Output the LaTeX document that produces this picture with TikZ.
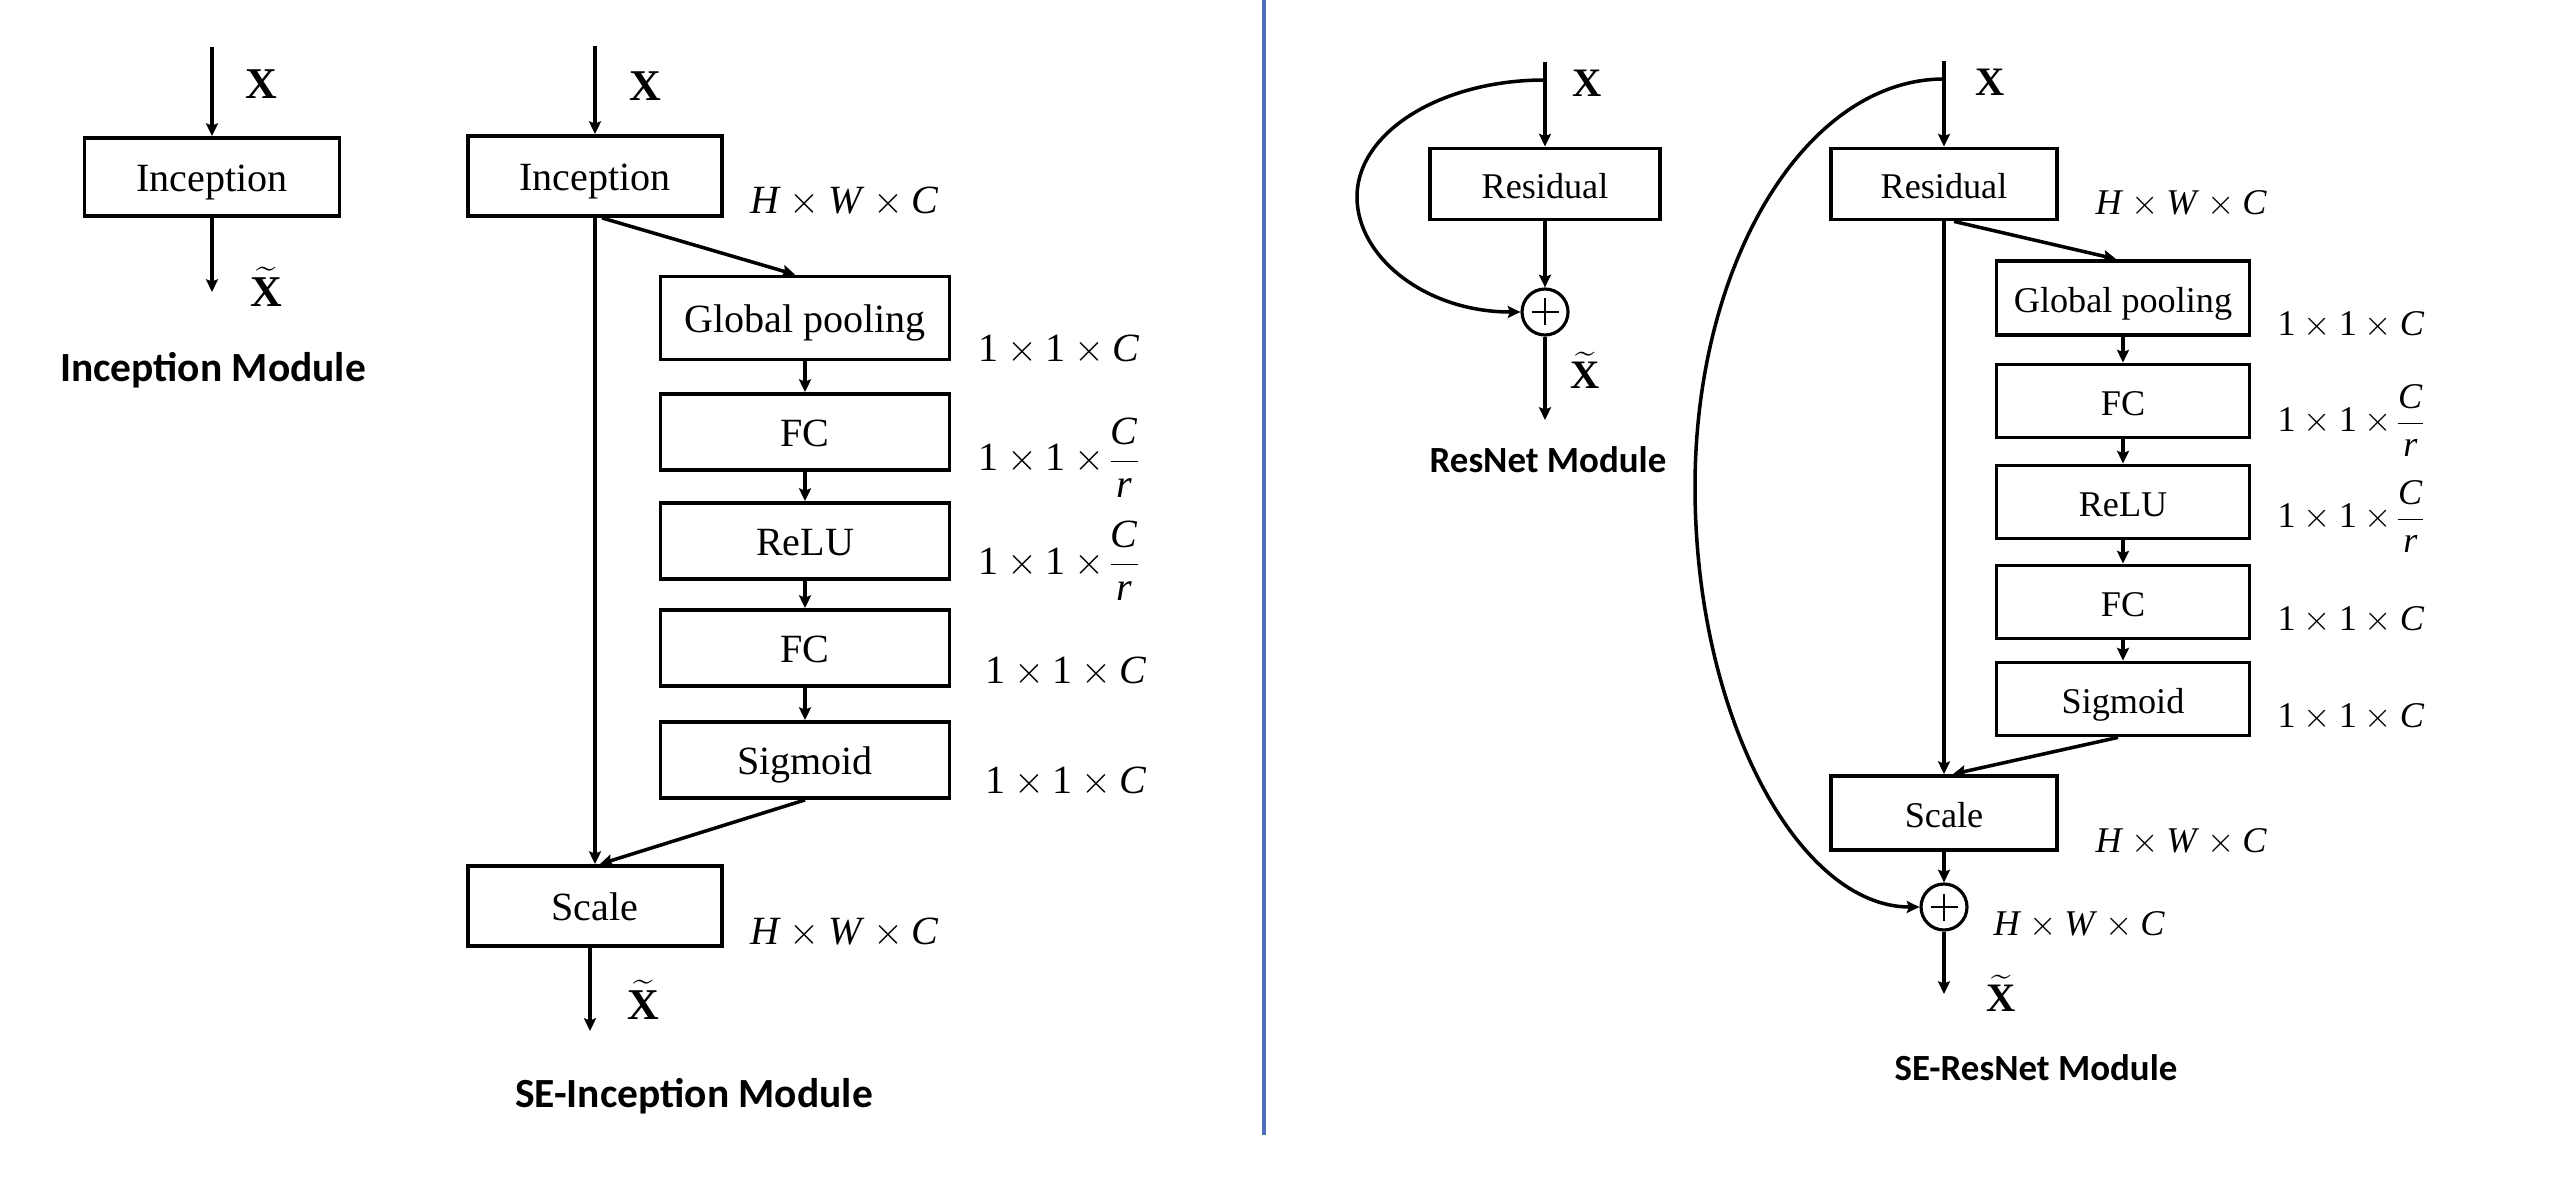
\documentclass[tikz,border=0pt]{standalone}
\usepackage{fontspec}
\setmainfont{Liberation Serif}
\newfontfamily\titlefont{Carlito}
\usetikzlibrary{arrows.meta}
\definecolor{sepblue}{RGB}{78,110,186}
\newcommand\mi[1]{\mbox{\textit{#1}}}
\newcommand\mn[1]{\mbox{#1}}
\newcommand\bigfs{\fontsize{11.4pt}{13pt}\selectfont}
\newcommand\smallfs{\fontsize{10.3pt}{12pt}\selectfont}
\newcommand\dimHWC{$\mi{H}\times\mi{W}\times\mi{C}$}
\newcommand\dimOOC{$\mn{1}\times\mn{1}\times\mi{C}$}
\newcommand\dimOOCr{$\mn{1}\times\mn{1}\times\!\displaystyle\frac{\mi{C}}{\mi{r}}$}
\newcommand\xin{\textbf{X}}
\newcommand\xout{$\widetilde{\mbox{\textbf{X}}}$}
\tikzset{
  blk/.style={draw, line width=1.1pt, inner sep=0pt, minimum height=7.6mm,
    text height=0.84em, text depth=0pt},
  lblk/.style={blk, font=\bigfs},
  rblk/.style={blk, font=\smallfs, minimum height=7.3mm},
  link/.style={line width=1pt, -{Stealth[length=3.6pt,width=3.4pt,inset=0.6pt]}},
  dimL/.style={anchor=base west, font=\bigfs, inner sep=0pt},
  dimR/.style={anchor=base west, font=\smallfs, inner sep=0pt},
  varL/.style={font=\fontsize{12.5pt}{14pt}\selectfont, inner sep=0pt},
  varR/.style={font=\fontsize{11.5pt}{13pt}\selectfont, inner sep=0pt},
  titleL/.style={font=\titlefont\bfseries\fontsize{11.8pt}{14pt}\selectfont},
  titleR/.style={font=\titlefont\bfseries\fontsize{10.5pt}{13pt}\selectfont},
  addop/.style={circle, draw, line width=0.9pt, minimum size=4.6mm, inner sep=0pt,
    path picture={
      \draw[line width=0.7pt] ([xshift=-1.35mm]path picture bounding box.center) -- ([xshift=1.35mm]path picture bounding box.center);
      \draw[line width=0.7pt] ([yshift=-1.35mm]path picture bounding box.center) -- ([yshift=1.35mm]path picture bounding box.center);
    }},
}
\begin{document}
\begin{tikzpicture}[x=0.1mm, y=-0.1mm]
  \fill[white] (0,0) rectangle (2572,1180);
  \useasboundingbox (0,0) rectangle (2572,1180);

  % ---------------- Inception module ----------------
  \node[lblk, minimum width=25.5mm, minimum height=7.8mm] (inc1) at (212,177) {Inception};
  \coordinate (inc1in) at (212,47);
  \coordinate (inc1out) at (212,292);
  \draw[link] (inc1in) -- (inc1.north);
  \draw[link] (inc1.south) -- (inc1out);
  \node[varL] (x1) at (261,84) {\xin};
  \node[varL] (xt1) at (266,287) {\xout};
  \node[titleL] (t1) at (213,370) {Inception Module};

  % ---------------- SE-Inception module ----------------
  \node[lblk, minimum width=25.4mm, minimum height=8mm] (inc2) at (595,176) {Inception};
  \coordinate (inc2in) at (595,46);
  \draw[link] (inc2in) -- (inc2.north);
  \node[varL] (x2) at (645,86) {\xin};
  \node[dimL] (d2a) at (750,214) {\dimHWC};

  \node[lblk, minimum width=28.9mm, minimum height=8.3mm] (gp1) at (805,318) {Global pooling};
  \node[lblk, minimum width=28.9mm] (fc1) at (805,432) {FC};
  \node[lblk, minimum width=28.9mm] (relu1) at (805,541) {ReLU};
  \node[lblk, minimum width=28.9mm] (fc2) at (805,648) {FC};
  \node[lblk, minimum width=28.9mm] (sig1) at (805,760) {Sigmoid};
  \node[lblk, minimum width=25.4mm, minimum height=8mm] (scale1) at (595,906) {Scale};

  \node[dimL] (d2b) at (978,362) {\dimOOC};
  \node[dimL] (d2c) at (978,471) {\dimOOCr};
  \node[dimL] (d2d) at (978,574) {\dimOOCr};
  \node[dimL] (d2e) at (985,683) {\dimOOC};
  \node[dimL] (d2f) at (985,793) {\dimOOC};
  \node[dimL] (d2g) at (750,944) {\dimHWC};

  \draw[link] (inc2.south) -- (scale1.north);
  \draw[link] ([xshift=0.7mm]inc2.south) -- ([xshift=-1mm]gp1.north);
  \draw[link] (gp1) -- (fc1);
  \draw[link] (fc1) -- (relu1);
  \draw[link] (relu1) -- (fc2);
  \draw[link] (fc2) -- (sig1);
  \draw[link] (sig1.south) -- ([xshift=0.5mm]scale1.north);
  \coordinate (inc2out) at (590,1031);
  \draw[link] ([xshift=-0.5mm]scale1.south) -- (inc2out);
  \node[varL] (xt2) at (643,1000) {\xout};
  \node[titleL] (t2) at (694,1096) {SE-Inception Module};

  % ---------------- separator ----------------
  \coordinate (septop) at (1264,0);
  \coordinate (sepbot) at (1264,1135);
  \draw[sepblue, line width=1.15pt] (septop) -- (sepbot);

  % ---------------- ResNet module ----------------
  \node[rblk, minimum width=23mm, minimum height=7.1mm] (res1) at (1545,184) {Residual};
  \coordinate (res1in) at (1545,62);
  \coordinate (res1br) at (1545,80);
  \coordinate (res1left) at (1357,197);
  \coordinate (res1out) at (1545,420);
  \node[addop] (add1) at (1545,312) {};
  \draw[link] (res1in) -- (res1.north);
  \draw[link] (res1.south) -- (add1.north);
  \draw[link] (add1.south) -- (res1out);
  \draw[link] (res1br) .. controls +(-104,0) and +(0,-65) .. (res1left)
                       .. controls +(0,60) and +(-95,0) .. (add1.west);
  \node[varR] (x3) at (1587,83) {\xin};
  \node[varR] (xt3) at (1585,370) {\xout};
  \node[titleR] (t3) at (1548,460) {ResNet Module};

  % ---------------- SE-ResNet module ----------------
  \node[rblk, minimum width=22.6mm, minimum height=7.1mm] (res2) at (1944,184) {Residual};
  \coordinate (res2in) at (1944,61);
  \coordinate (res2br) at (1944,79);
  \coordinate (res2left) at (1695,487);
  \draw[link] (res2in) -- (res2.north);
  \node[varR] (x4) at (1990,82) {\xin};
  \node[dimR] (d4a) at (2095,215) {\dimHWC};

  \node[rblk, minimum width=25.3mm, minimum height=7.4mm] (gp2) at (2123,298) {Global pooling};
  \node[rblk, minimum width=25.3mm] (fc3) at (2123,401) {FC};
  \node[rblk, minimum width=25.3mm] (relu2) at (2123,502) {ReLU};
  \node[rblk, minimum width=25.3mm] (fc4) at (2123,602) {FC};
  \node[rblk, minimum width=25.3mm] (sig2) at (2123,699) {Sigmoid};
  \node[rblk, minimum width=22.6mm, minimum height=7.4mm] (scale2) at (1944,813) {Scale};
  \node[addop] (add2) at (1944,907) {};
  \coordinate (res2out) at (1944,994);

  \node[dimR] (d4b) at (2277,336) {\dimOOC};
  \node[dimR] (d4c) at (2277,432) {\dimOOCr};
  \node[dimR] (d4d) at (2277,528) {\dimOOCr};
  \node[dimR] (d4e) at (2277,630) {\dimOOC};
  \node[dimR] (d4f) at (2277,727) {\dimOOC};
  \node[dimR] (d4g) at (2095,852) {\dimHWC};
  \node[dimR] (d4h) at (1993,935) {\dimHWC};

  \draw[link] (res2.south) -- (scale2.north);
  \draw[link] ([xshift=1mm]res2.south) -- ([xshift=-0.7mm]gp2.north);
  \draw[link] (gp2) -- (fc3);
  \draw[link] (fc3) -- (relu2);
  \draw[link] (relu2) -- (fc4);
  \draw[link] (fc4) -- (sig2);
  \draw[link] ([xshift=-0.5mm]sig2.south) -- ([xshift=0.9mm]scale2.north);
  \draw[link] (scale2.south) -- (add2.north);
  \draw[link] (add2.south) -- (res2out);
  \draw[link] (res2br) .. controls +(-138,0) and +(0,-225) .. (res2left)
                       .. controls +(0,231) and +(-120,0) .. (add2.west);
  \node[varR] (xt4) at (2001,993) {\xout};
  \node[titleR] (t4) at (2036,1068) {SE-ResNet Module};
\end{tikzpicture}
\end{document}
